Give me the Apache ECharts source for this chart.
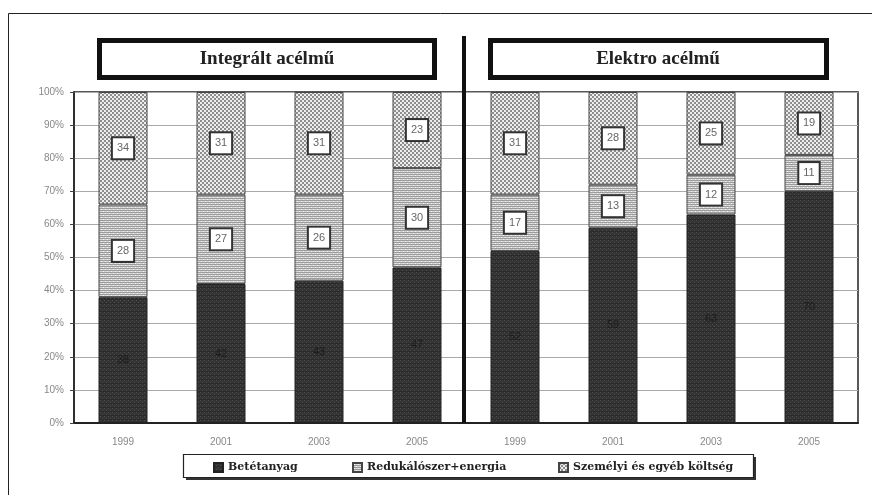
<!DOCTYPE html>
<html>
<head>
<meta charset="utf-8">
<script src="https://cdn.jsdelivr.net/npm/echarts@6/dist/echarts.min.js"></script>
<style>
  html,body{margin:0;padding:0;background:#fff;}
  #chart{width:872px;height:495px;}
</style>
</head>
<body>
<div id="chart"></div>
<script>
  // adatok
  var years = ['1999', '2001', '2003', '2005', '1999', '2001', '2003', '2005'];
  var betetanyag = [38, 42, 43, 47, 52, 59, 63, 70];
  var redukalo = [28, 27, 26, 30, 17, 13, 12, 11];
  var szemelyi = [34, 31, 31, 23, 31, 28, 25, 19];
  var seriesNames = ['Betétanyag', 'Redukálószer+energia', 'Személyi és egyéb költség'];
  var panelTitles = ['Integrált acélmű', 'Elektro acélmű'];

  // kis mintázatok a sávokhoz
  function pattern(size, draw) {
    var c = document.createElement('canvas');
    c.width = size; c.height = size;
    var ctx = c.getContext('2d');
    draw(ctx);
    return {image: c, repeat: 'repeat'};
  }
  var darkFill = pattern(4, function (ctx) {
    ctx.fillStyle = '#333'; ctx.fillRect(0, 0, 4, 4);
    ctx.fillStyle = '#4d4d4d'; ctx.fillRect(0, 0, 1, 1); ctx.fillRect(2, 2, 1, 1);
    ctx.fillStyle = '#2a2a2a'; ctx.fillRect(0, 3, 4, 1);
  });
  var midFill = pattern(4, function (ctx) {
    ctx.fillStyle = '#d4d4d4'; ctx.fillRect(0, 0, 4, 4);
    ctx.fillStyle = '#9c9c9c'; ctx.fillRect(0, 0, 4, 1); ctx.fillRect(0, 2, 4, 1);
    ctx.fillStyle = '#f4f4f4'; ctx.fillRect(1, 1, 1, 1); ctx.fillRect(3, 3, 1, 1);
  });
  var topFill = pattern(4, function (ctx) {
    ctx.fillStyle = '#ededed'; ctx.fillRect(0, 0, 4, 4);
    ctx.fillStyle = '#8e8e8e'; ctx.fillRect(0, 0, 2, 2); ctx.fillRect(2, 2, 2, 2);
  });

  var boxLabel = {
    show: true,
    position: 'inside',
    color: '#666',
    fontSize: 11,
    fontFamily: 'Liberation Sans',
    backgroundColor: '#fff',
    borderColor: '#333',
    borderWidth: 2,
    padding: [5, 4, 4, 4]
  };

  var legendText = {fontFamily: 'DejaVu Serif', fontWeight: 'bold', fontSize: 11, color: '#222'};
  function legendAt(name, left) {
    return {
      data: [name], left: left, top: 462, padding: 0, icon: 'rect',
      itemWidth: 9, itemHeight: 9, itemGap: 3, textStyle: legendText,
      selectedMode: false
    };
  }

  var myChart = echarts.init(document.getElementById('chart'));
  var option = {
    backgroundColor: '#fff',
    animation: false,
    grid: {
      left: 74, right: 14, top: 92, bottom: 72,
      show: true, borderColor: '#222', borderWidth: 1.5, backgroundColor: 'transparent'
    },
    legend: [
      legendAt(seriesNames[0], 213),
      legendAt(seriesNames[1], 352),
      legendAt(seriesNames[2], 558)
    ],
    xAxis: {
      type: 'category',
      data: years,
      axisLine: {lineStyle: {color: '#222', width: 2}},
      axisTick: {length: 4, lineStyle: {color: '#444'}},
      axisLabel: {color: '#888', fontSize: 10, fontFamily: 'Liberation Sans', margin: 14}
    },
    yAxis: {
      type: 'value',
      min: 0, max: 100, interval: 10,
      axisLine: {show: true, lineStyle: {color: '#222', width: 1.5}},
      axisTick: {show: true, length: 4, lineStyle: {color: '#444'}},
      axisLabel: {formatter: '{value}%', color: '#888', fontSize: 10, fontFamily: 'Liberation Sans', margin: 10},
      splitLine: {lineStyle: {color: '#aaa', width: 1}}
    },
    series: [
      {
        name: seriesNames[0], type: 'bar', stack: 'total', barWidth: '50%',
        data: betetanyag,
        itemStyle: {color: darkFill, borderColor: '#222', borderWidth: 1},
        label: {show: true, position: 'inside', color: '#1c1c1c', fontSize: 11, fontFamily: 'Liberation Sans'}
      },
      {
        name: seriesNames[1], type: 'bar', stack: 'total',
        data: redukalo,
        itemStyle: {color: midFill, borderColor: '#444', borderWidth: 1},
        label: boxLabel
      },
      {
        name: seriesNames[2], type: 'bar', stack: 'total',
        data: szemelyi,
        itemStyle: {color: topFill, borderColor: '#444', borderWidth: 1},
        label: boxLabel
      }
    ],
    graphic: [
      // külső keret (bal és felső él)
      {type: 'rect', z: -10, shape: {x: 8.5, y: 13.5, width: 900, height: 520},
        style: {fill: null, stroke: '#222', lineWidth: 1}},
      // elválasztó vonal
      {type: 'line', z: 100, shape: {x1: 464, y1: 36, x2: 464, y2: 423},
        style: {stroke: '#111', lineWidth: 4}},
      // panel címek
      {type: 'rect', shape: {x: 99.5, y: 40.5, width: 335, height: 37},
        style: {fill: '#fff', stroke: '#111', lineWidth: 5}},
      {type: 'text', x: 267, y: 59,
        style: {text: panelTitles[0], fill: '#222', font: 'bold 19px "Liberation Serif"', align: 'center', verticalAlign: 'middle'}},
      {type: 'rect', shape: {x: 490.5, y: 40.5, width: 336, height: 37},
        style: {fill: '#fff', stroke: '#111', lineWidth: 5}},
      {type: 'text', x: 658, y: 59,
        style: {text: panelTitles[1], fill: '#222', font: 'bold 19px "Liberation Serif"', align: 'center', verticalAlign: 'middle'}},
      // jelmagyarázat doboz árnyékkal
      {type: 'rect', z: -1, shape: {x: 186, y: 457, width: 570, height: 23},
        style: {fill: '#333'}},
      {type: 'rect', z: -1, shape: {x: 183.5, y: 454.5, width: 570, height: 23},
        style: {fill: '#fff', stroke: '#222', lineWidth: 1.2}}
    ]
  };
  myChart.setOption(option);
</script>
</body>
</html>
